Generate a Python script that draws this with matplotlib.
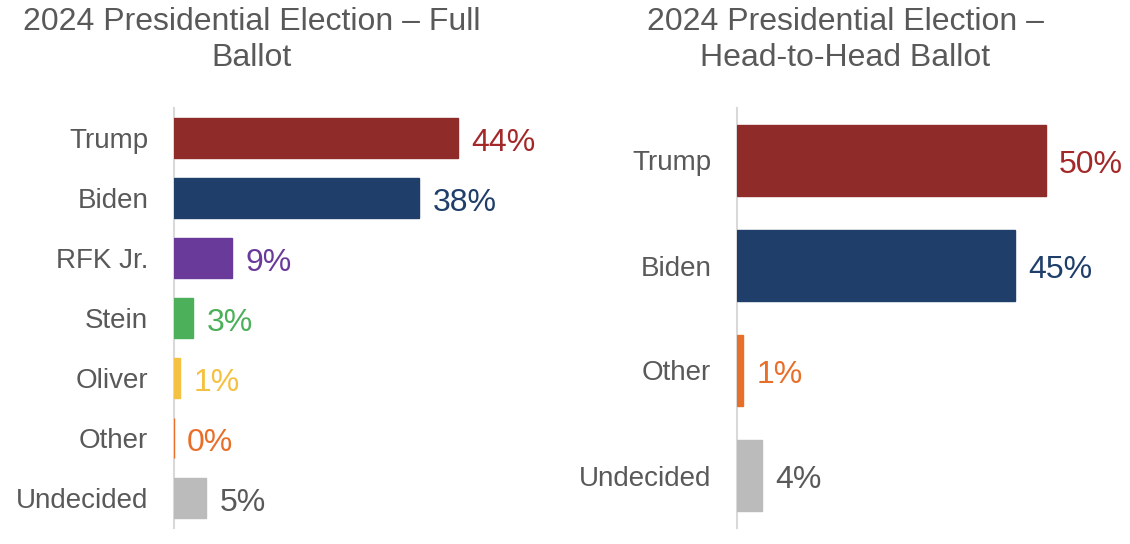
import matplotlib
matplotlib.use("Agg")
import matplotlib.pyplot as plt

plt.rcParams['font.family'] = ['Liberation Sans', 'DejaVu Sans']

# full ballot
full_names = ["Trump", "Biden", "RFK Jr.", "Stein", "Oliver", "Other", "Undecided"]
full_vals = [44, 38, 9, 3, 1, 0, 5]
full_colors = ["#8f2b29", "#1f3f6a", "#6a3a9b", "#4caf5a", "#f4c143", "#e86f2a", "#bbbbbb"]
full_text = ["#a3282a", "#1f3f6a", "#6a3a9b", "#4caf5a", "#f4c143", "#e86f2a", "#595959"]

# head-to-head
h2h_names = ["Trump", "Biden", "Other", "Undecided"]
h2h_vals = [50, 45, 1, 4]
h2h_colors = ["#8f2b29", "#1f3f6a", "#e86f2a", "#bbbbbb"]
h2h_text = ["#a3282a", "#1f3f6a", "#e86f2a", "#595959"]

grey = "#595959"

fig = plt.figure(figsize=(11.3, 5.44), dpi=100)
W, H = 1130., 544.

def panel(left_px, right_px, names, vals, colors, tcolors, px_per):
    ax = fig.add_axes([left_px / W, 16 / H, (right_px - left_px) / W, 420 / H])
    y = list(range(len(names)))
    ax.barh(y, vals, height=0.667, color=colors, edgecolor=colors, linewidth=1.0, zorder=3)
    for yi, v, c in zip(y, vals, tcolors):
        ax.annotate("%d%%" % v, (v, yi), xytext=(9.5, -3.5), textcoords="offset points",
                    ha="left", va="center", fontsize=23, color=c)
    ax.set_xlim(0, (right_px - left_px) / px_per)
    ax.set_ylim(len(names) - 0.5, -0.5)
    ax.set_yticks(y)
    ax.set_yticklabels(names, fontsize=20, color=grey)
    ax.tick_params(axis="y", length=0, pad=18.5)
    ax.set_xticks([])
    for s in ["top", "right", "bottom"]:
        ax.spines[s].set_visible(False)
    ax.spines["left"].set_color("#d9d9d9")
    ax.spines["left"].set_linewidth(1.5)
    return ax

panel(174, 560, full_names, full_vals, full_colors, full_text, 6.45)
panel(737, 1120, h2h_names, h2h_vals, h2h_colors, h2h_text, 6.18)

fig.text(252 / W, 1 - 40 / H, "2024 Presidential Election \u2013 Full\nBallot", ha="center", va="center",
         fontsize=23, color=grey, linespacing=1.3)
fig.text(845 / W, 1 - 40 / H, "2024 Presidential Election \u2013\nHead-to-Head Ballot", ha="center", va="center",
         fontsize=23, color=grey, linespacing=1.3)

fig.savefig("out.png", dpi=100)
